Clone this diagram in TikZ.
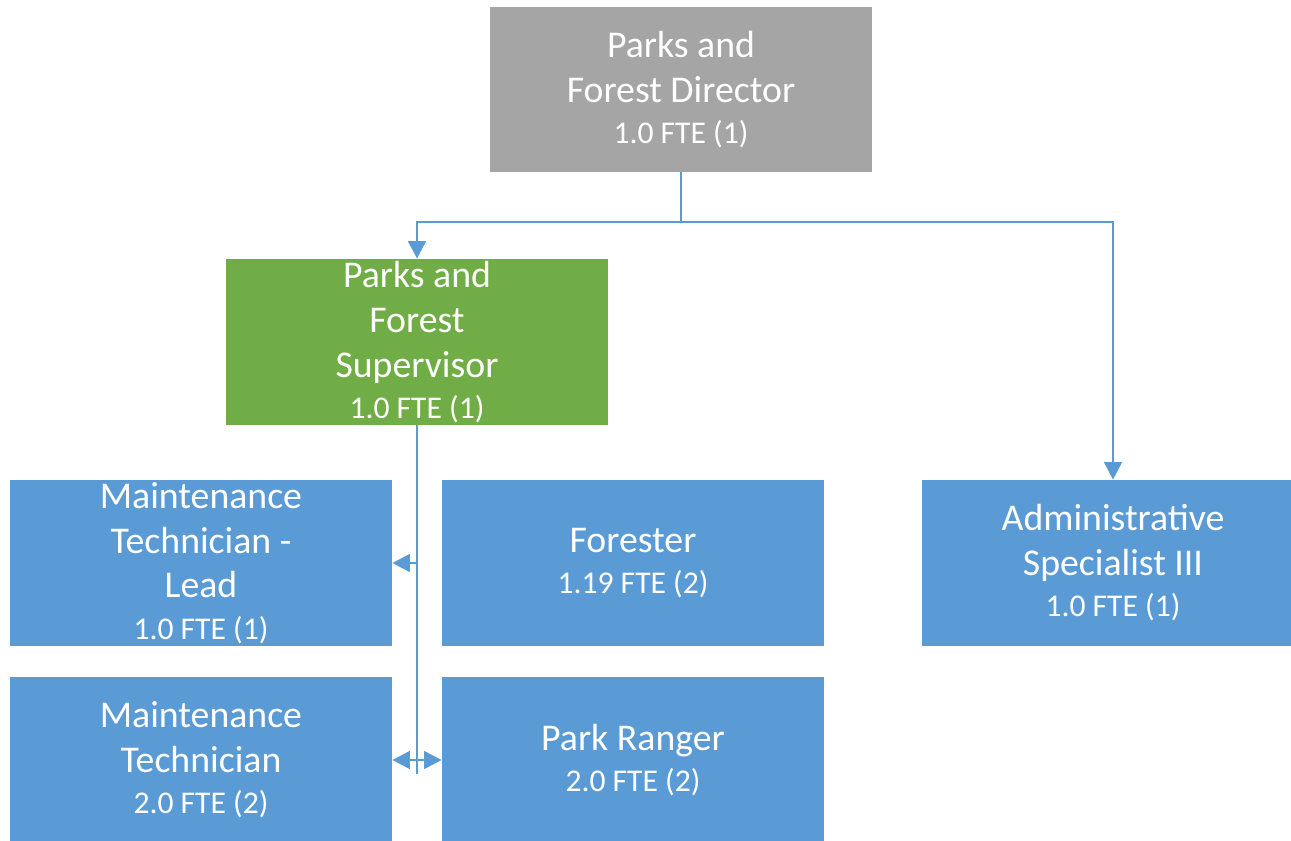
\documentclass[tikz,border=0pt]{standalone}
\usepackage{fontspec}
\setmainfont{Carlito}
\usetikzlibrary{arrows.meta}
\definecolor{boxblue}{HTML}{5B9BD5}
\definecolor{boxgreen}{HTML}{70AD47}
\definecolor{boxgray}{HTML}{A5A5A5}
\newcommand{\fte}[1]{{\fontsize{18}{22}\selectfont #1}}
\begin{document}
\begin{tikzpicture}[x=0.02cm,y=-0.02cm,
    post/.style={fill=boxblue,text=white,minimum width=7.64cm,minimum height=3.32cm,align=center,inner sep=0pt,font=\fontsize{21.5}{25.5}\selectfont},
    link/.style={draw=boxblue,line width=1.6pt},
    tip/.style={link,-{Triangle[width=10pt,length=10pt]}}]
    \useasboundingbox (0,0) rectangle (1291,840);
    \node[post,fill=boxgray,minimum height=3.30cm] (dir) at (681,89.5) {Parks and\\Forest Director\\[-2pt]\fte{1.0 FTE (1)}};
    \node[post,fill=boxgreen] (sup) at (417,342) {Parks and\\Forest\\Supervisor\\[-2pt]\fte{1.0 FTE (1)}};
    \node[post] (mtl) at (201,563) {Maintenance\\Technician -\\Lead\\[-2pt]\fte{1.0 FTE (1)}};
    \node[post] (for) at (633,563) {Forester\\[-2pt]\fte{1.19 FTE (2)}};
    \node[post] (adm) at (1113,563) {Administrative\\Specialist III\\[-2pt]\fte{1.0 FTE (1)}};
    \node[post] (mt) at (201,760) {Maintenance\\Technician\\[-2pt]\fte{2.0 FTE (2)}};
    \node[post] (pr) at (633,760) {Park Ranger\\[-2pt]\fte{2.0 FTE (2)}};
    \coordinate (split) at (681,222);
    \draw[link] (dir.south) -- (split);
    \draw[tip] (split) -| (sup.north);
    \draw[tip] (split) -| (adm.north);
    \draw[link] (sup.south) -- ([yshift=-8]sup.south |- mt.east);
    \draw[tip] (sup.south |- mtl.east) -- (mtl.east);
    \draw[tip] (sup.south |- mt.east) -- (mt.east);
    \draw[tip] (sup.south |- pr.west) -- (pr.west);
\end{tikzpicture}
\end{document}
